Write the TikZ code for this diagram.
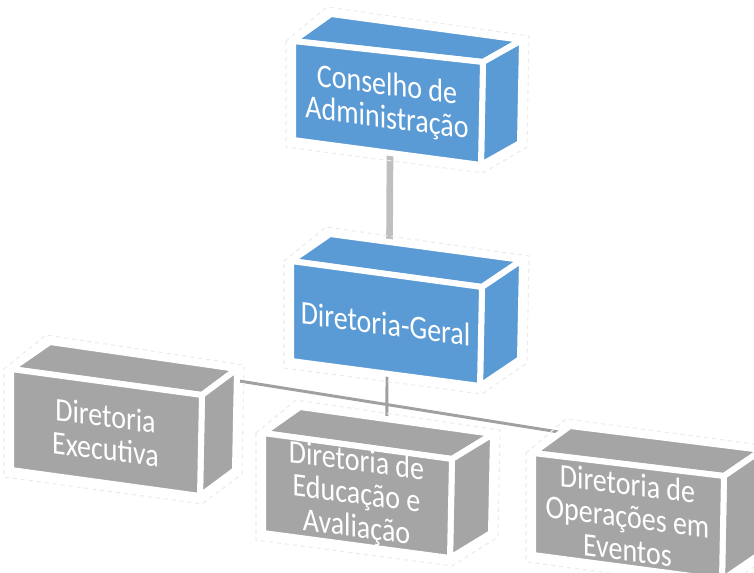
\documentclass[tikz,border=0pt]{standalone}
\usepackage{fontspec}
\setmainfont{Carlito}
\usetikzlibrary{calc,backgrounds}
\definecolor{bblue}{RGB}{91,155,213}
\definecolor{bgray}{RGB}{165,165,165}
\definecolor{ctop}{RGB}{191,191,191}
\definecolor{clow}{RGB}{160,160,160}
\tikzset{
  face/.style={line width=4.5pt, draw=white, line join=round},
  glow/.style={draw=black!8, dash pattern=on 3pt off 3pt, line width=0.8pt},
  lbl/.style={text=white, align=center, font=\fontsize{21}{21}\selectfont, yslant=-0.13, yscale=1.18, inner sep=0pt},
  conntop/.style={draw=ctop, line width=5pt, line cap=round},
  connlow/.style={draw=clow, line width=2.2pt},
}
% #1 name, #2 A (front top-left), #3 B (front top-right), #4 C (front bottom-right),
% #5 D (front bottom-left), #6 back top-left, #7 back top-right, #8 colour, #9 text
\newcommand\obox[9]{%
  \coordinate (#1-A) at #2; \coordinate (#1-B) at #3;
  \coordinate (#1-C) at #4; \coordinate (#1-D) at #5;
  \coordinate (#1-Ab) at #6; \coordinate (#1-Bb) at #7;
  \coordinate (#1-Cb) at ($(#1-C)+(#1-Bb)-(#1-B)$);
  \draw[glow] ($(#1-A)+(-7,0)$) -- ($(#1-Ab)+(-4,-7)$) -- ($(#1-Bb)+(7,-4)$)
     -- ($(#1-Cb)+(7,4)$) -- ($(#1-C)+(2,8)$) -- ($(#1-D)+(-7,7)$) -- cycle;
  \filldraw[fill=#8, face] (#1-A) -- (#1-B) -- (#1-Bb) -- (#1-Ab) -- cycle;
  \filldraw[fill=#8, face] (#1-B) -- (#1-Bb) -- (#1-Cb) -- (#1-C) -- cycle;
  \filldraw[fill=#8, face] (#1-A) -- (#1-B) -- (#1-C) -- (#1-D) -- cycle;
  \node[lbl] (#1) at ($(#1-A)!0.5!(#1-C)$) {#9};
}
\begin{document}
\begin{tikzpicture}[x=0.75pt, y=-0.75pt]
  \useasboundingbox (0,0) rectangle (754,573);
  \clip (0,0) rectangle (754,573);
  \obox{con}{(293,41)}{(483,62)}{(481,165)}{(293,140)}{(331,14)}{(522,40)}{bblue}{Conselho de\\Administração}
  \obox{ger}{(291,261)}{(482,287)}{(480,386)}{(291,361)}{(330,234)}{(522,260)}{bblue}{Diretoria-Geral}
  \obox{exe}{(11,369)}{(202,395)}{(200,496)}{(11,470)}{(50,342)}{(237,369)}{bgray}{Diretoria\\Executiva}
  \obox{edu}{(263,433)}{(452,459)}{(450,558)}{(263,533)}{(300,407)}{(493,434)}{bgray}{Diretoria de\\Educação e\\Avaliação}
  \obox{ope}{(533,453)}{(724,476)}{(722,580)}{(533,555)}{(570,426)}{(762,450)}{bgray}{Diretoria de\\Operações em\\Eventos}
  \begin{scope}[on background layer]
    \coordinate (con-port) at ($(con-D)!0.516!(con-C)$);
    \coordinate (ger-in) at ($(ger-Ab)!0.31!(ger-Bb)$);
    \coordinate (ger-port) at ($(ger-D)!0.508!(ger-C)$);
    \coordinate (edu-in) at ($(edu-Ab)!0.45!(edu-Bb)$);
    \coordinate (exe-port) at ($(exe-Bb)+(-4,11)$);
    \coordinate (ope-in) at ($(ope-Ab)+(-5,7)$);
    \draw[conntop] (con-port) -- (ger-in);
    \draw[connlow] (ger-port) -- (edu-in);
    \draw[connlow] (exe-port) -- (ope-in);
  \end{scope}
\end{tikzpicture}
\end{document}
